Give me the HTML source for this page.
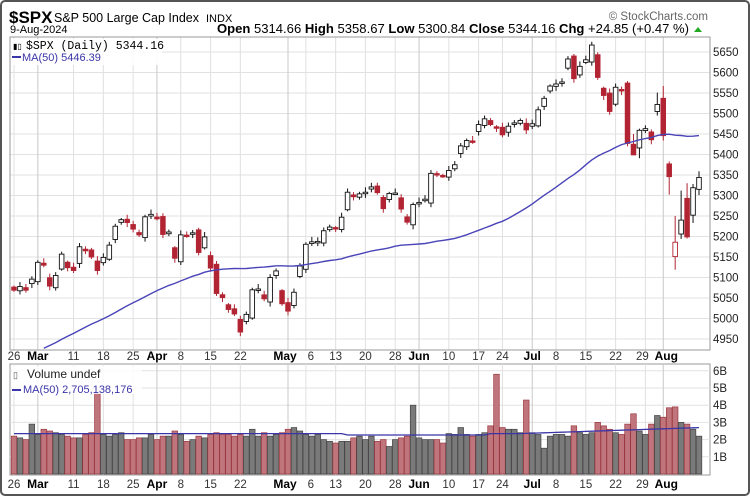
<!DOCTYPE html>
<html><head><meta charset="utf-8"><style>
body{margin:0;background:#fff;}
svg{display:block;font-family:"Liberation Sans",sans-serif;}
</style></head><body>
<svg id="s" width="750" height="496" viewBox="0 0 750 496" xmlns="http://www.w3.org/2000/svg"></svg>
<script>
const C=[5069,5078,5069,5096,5137,5130,5079,5105,5157,5124,5117,5175,5165,5150,5117,5149,5179,5225,5241,5234,5218,5204,5248,5254,
5243,5205,5211,5147,5204,5202,5209,5161,5199,5123,5061,5051,5022,5011,4967,5010,5070,5072,5048,5100,5116,5036,
5018,5064,5128,5181,5187,5188,5214,5223,5221,5247,5308,5297,5304,5308,5321,5307,5268,5305,5306,5267,5235,5278,
5283,5291,5354,5352,5347,5361,5375,5421,5434,5431,5473,5487,5473,5464,5448,5469,5477,5483,5460,
5475,5509,5537,5567,5572,5577,5633,5585,5615,5631,5667,5588,5544,5505,5564,5555,5427,5399,5459,5463,5436,5522,
5446,5346,5186,5240,5199,5319,5344];
const N=C.length;
const X=i=>14+i*(685/(N-1));
const Y=p=>52+(5650-p)/50*20.5;
const VY=v=>474-v*17.2;
let s='';
const ln=(x1,y1,x2,y2,c,w)=>`<line x1="${x1}" y1="${y1}" x2="${x2}" y2="${y2}" stroke="${c}" stroke-width="${w||1}"/>`;
const tx=(x,y,t,o)=>`<text x="${x}" y="${y}" ${o||''}>${t}</text>`;
s+=`<rect x="1" y="1" width="748" height="494" rx="4" fill="#fff" stroke="#555" stroke-width="2"/>`;
s+=tx(9,23,'$SPX','font-size="17" font-weight="bold"');
s+=tx(54,22,'S&amp;P 500 Large Cap Index','font-size="12.5"');
s+=tx(206,22,'INDX','font-size="11"');
s+=tx(10,33,'9-Aug-2024','font-size="11"');
s+=tx(217,33,'<tspan font-weight="bold">Open</tspan> 5314.66 <tspan font-weight="bold">High</tspan> 5358.67 <tspan font-weight="bold">Low</tspan> 5300.84 <tspan font-weight="bold">Close</tspan> 5344.16 <tspan font-weight="bold">Chg</tspan> +24.85 (+0.47 %)','font-size="12.5" textLength="472" lengthAdjust="spacingAndGlyphs"');
s+=`<polygon points="694,32 702,32 698,27" fill="#2a2"/>`;
s+=tx(708,20,'© StockCharts.com','font-size="11.5" fill="#666" text-anchor="end"');
const lab=[[0,'26'],[4,'Mar',1],[10,'11'],[15,'18'],[20,'25'],[24,'Apr',1],[28,'8'],[33,'15'],[38,'22'],[46,'May',1],[49,'6'],[54,'13'],[59,'20'],[64,'28'],[68,'Jun',1],[73,'10'],[78,'17'],[82,'24'],[87,'Jul',1],[91,'8'],[96,'15'],[101,'22'],[106,'29'],[109,'Aug',1]];
function grid(y0,y1){lab.forEach(l=>{s+=ln(X(l[0]),y0,X(l[0]),y1,l[2]?'#c8c8c8':'#e0e0e0');});}
s+=`<rect x="10" y="37" width="700" height="313" fill="#fff"/>`;
for(let p=4950;p<=5650;p+=50){s+=ln(10,Y(p),710,Y(p),'#e2e2e2');s+=tx(713,Y(p)+4,p,'font-size="11.5" fill="#222"');}
grid(37,350);
s+=`<rect x="10" y="37" width="700" height="313" fill="none" stroke="#999"/>`;
s+=`<rect x="10" y="364" width="700" height="111" fill="none" stroke="#999"/>`;
for(let v=1;v<=6;v++){s+=ln(10,VY(v),710,VY(v),'#e2e2e2');s+=tx(713,VY(v)+4,v+'B','font-size="11.5" fill="#222"');}
grid(364,475);
function dates(y){lab.forEach(l=>{let x=X(l[0]);let t=l[1];
 if(t==='6'){s+=tx(x+5,y,t,'font-size="11.5" fill="#333" text-anchor="middle"');return;}
 if(t==='29'){s+=tx(x-3,y,t,'font-size="11.5" fill="#333" text-anchor="middle"');return;}
 if(t==='Aug'){s+=tx(x+3,y,t,'font-size="12" font-weight="bold" text-anchor="middle"');return;}
 if(t==='May'){s+=tx(x-3,y,t,'font-size="12" font-weight="bold" text-anchor="middle"');return;}
 s+=tx(x,y,t,l[2]?'font-size="12" font-weight="bold" text-anchor="middle"':'font-size="11.5" fill="#333" text-anchor="middle"');});}
dates(360);dates(488);
let pre=[];for(let i=0;i<49;i++)pre.push(4700+i*(370/48));
const all=pre.concat(C);
let pts=[];
for(let i=0;i<N;i++){let a=0;for(let k=0;k<50;k++)a+=all[i+49-k];a/=50;if(Y(a)<349)pts.push(X(i).toFixed(1)+','+Y(a).toFixed(1));}
const ov={108:[5505,5551,5495],109:[5537,5567,5434],110:[5377,5383,5302],111:[5151,5250,5119],112:[5206,5312,5194],113:[5293,5330,5195],114:[5252,5328,5233],115:[5315,5359,5301],104:[5425,5450,5406],105:[5416,5463,5391]};
for(let i=0;i<N;i++){
 let c=C[i],pc=i?C[i-1]:5088;
 let o,h,l;
 if(ov[i]){[o,h,l]=ov[i];}else{
  let d=c-pc;o=pc+d*((i%3==0)?0.6:(i%3==1?-0.15:0.3));
  h=Math.max(o,c)+4+(i*7%9);l=Math.min(o,c)-4-(i*5%8);}
 let col=c<pc?'#b22433':'#111';
 let x=X(i);
 s+=ln(x,Y(h),x,Y(l),col);
 let yt=Y(Math.max(o,c)),yb=Y(Math.min(o,c));if(yb-yt<1.5)yb=yt+1.5;
 s+=`<rect x="${x-2.3}" y="${yt}" width="4.6" height="${yb-yt}" fill="${c>o?'#fff':col}" stroke="${col}" stroke-width="0.9"/>`;
}
s+=`<polyline points="${pts.join(' ')}" fill="none" stroke="#4a44b8" stroke-width="1.4"/>`;
s+=`<rect x="12" y="39" width="150" height="26" fill="#fff" fill-opacity="0.85"/>`;
s+=tx(13,49,'&#9646;&#9647;','font-size="8"');
s+=tx(26,49,'$SPX (Daily) 5344.16','font-size="11.5" font-family="Liberation Mono" ');
s+=ln(12,57,21,57,'#3a35a8',2);
s+=tx(22,61,'MA(50) 5446.39','font-size="11" fill="#3a35a8"');
// volume
const V0=[2.2,2.1,2.0,2.9,2.3,2.6,2.5,2.4,2.3,2.2,2.1,2.1,2.3,2.4,4.7,2.3,2.2,2.3,2.4,2.0,2.0,2.1,2.1,2.3,2.0,2.2,2.2,2.5,2.3,1.9,2.0,2.2,2.1,2.3,2.4,2.3,2.3,2.2,2.3,2.2,2.6,2.2,2.4,2.2,2.3,2.4,2.6,2.7,2.5,2.3,2.2,2.3,2.0,1.9,1.8,1.9,1.9,2.1,2.2,2.0,2.2,1.9];
const R=[[0,1.9],[20,2.0],[35,2.2],[50,1.6],[65,2.0],[80,2.1],[95,2.2],[120,4.0],[135,2.1],[150,2.0],[165,2.0],[180,2.0],[195,1.9],[210,1.8],[228,2.35],[243,2.3],[260,2.7],[275,2.3],[290,2.2],[310,2.3],[325,2.4],[340,2.4],[355,2.8],[370,5.8],[388,2.7],[405,2.6],[420,2.6],[440,2.4],[460,4.3],[480,2.4],[495,2.3],[513,1.5],[530,2.2],[545,2.3],[560,2.3],[578,2.2],[592,2.3],[605,2.8],[620,2.4],[640,2.3],[655,2.4],[675,3.0],[690,2.8],[710,2.6],[730,2.4],[745,2.3],[760,2.9],[780,3.5],[800,2.5],[815,2.3],[830,2.9],[850,3.4],[865,3.3],[885,3.85],[905,3.9],[925,3.0],[945,2.9],[962,2.6]];
const V=[];for(let i=0;i<N;i++)V[i]=V0[i]!==undefined?V0[i]:2.2;
R.forEach(r=>{let i=Math.round((375+r[0]/3-14)/(685/(N-1)));if(i>=0&&i<N)V[i]=r[1];});
for(let i=0;i<N;i++){let v=V[i];let c=C[i],pc=i?C[i-1]:5088;let red=c<pc;
 s+=`<rect x="${X(i)-2.8}" y="${VY(v)}" width="5.6" height="${474-VY(v)}" fill="${red?'#c0757c':'#7a7a7a'}" stroke="${red?'#9a3840':'#444'}" stroke-width="0.7"/>`;}
let vp=[];for(let i=0;i<N;i++){let m=2.35+0.35*Math.max(0,(i-85)/30)-(i>55&&i<80?0.08:0);vp.push(X(i).toFixed(1)+','+VY(m).toFixed(1));}
s+=`<polyline points="${vp.join(' ')}" fill="none" stroke="#3a35a8" stroke-width="1.3"/>`;
s+=`<rect x="12" y="366" width="130" height="28" fill="#fff" fill-opacity="0.85"/>`;
s+=tx(13,378,'&#9647;','font-size="9" fill="#555"');
s+=tx(27,378,'Volume undef','font-size="12" fill="#222"');
s+=ln(12,390,21,390,'#3a35a8',2);
s+=tx(23,393,'MA(50) 2,705,138,176','font-size="11" fill="#3a35a8"');
document.getElementById('s').innerHTML=s;
</script>
</body></html>
